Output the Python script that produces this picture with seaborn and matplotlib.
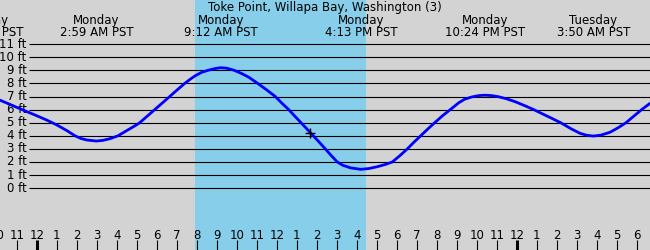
import matplotlib
matplotlib.use("Agg")
import matplotlib.pyplot as plt
import seaborn as sns

# ---- data (hours from Monday 00:00 PST, water level in ft) ----
hours = [-1.84, -1.5, -1.0, -0.5, 0.0, 0.5, 1.0, 1.5, 1.91, 2.2,
         2.5, 2.975, 3.3, 3.66, 4.06, 4.5, 5.0, 5.145, 5.5, 5.895,
         6.25, 6.645, 7.0, 7.395, 7.7, 7.925, 8.25, 8.56, 8.9, 9.195,
         9.5, 9.875, 10.25, 10.625, 11.045, 11.5, 11.925, 12.25, 12.595, 12.9,
         13.21, 13.5, 13.825, 14.1, 14.425, 14.7, 15.025, 15.3, 15.695, 16.195,
         16.6, 17.025, 17.4, 17.775, 18.15, 18.525, 18.85, 19.195, 19.55, 19.895,
         20.3, 20.675, 21.095, 21.4, 21.76, 22.1, 22.41, 22.75, 23.095, 23.5,
         23.925, 24.4, 24.845, 25.25, 25.66, 26.195, 26.7, 27.16, 27.5, 27.83,
         28.2, 28.66, 29.05, 29.46, 29.85, 30.245, 30.66]
heights = [6.72, 6.5, 6.17, 5.85, 5.53, 5.2, 4.83, 4.4, 4.0, 3.8,
           3.68, 3.6, 3.65, 3.78, 4.0, 4.4, 4.85, 5.0, 5.47, 6.0,
           6.47, 7.0, 7.48, 8.0, 8.35, 8.59, 8.85, 9.0, 9.13, 9.2,
           9.16, 9.0, 8.75, 8.45, 8.0, 7.5, 7.0, 6.5, 6.0, 5.5,
           5.0, 4.53, 4.0, 3.55, 3.0, 2.53, 2.0, 1.75, 1.55, 1.44,
           1.5, 1.64, 1.8, 2.0, 2.48, 3.0, 3.5, 4.0, 4.52, 5.0,
           5.55, 6.0, 6.52, 6.8, 6.97, 7.07, 7.1, 7.07, 6.98, 6.82,
           6.6, 6.3, 6.0, 5.7, 5.4, 5.0, 4.55, 4.19, 4.04, 3.98,
           4.05, 4.27, 4.6, 5.0, 5.5, 6.0, 6.48]

event_hours = [-2.5, 2.983, 9.2, 16.217, 22.4, 27.833]
event_days = ["Sunday", "Monday", "Monday", "Monday", "Monday", "Tuesday"]
event_times = ["9:30 PM PST", "2:59 AM PST", "9:12 AM PST", "4:13 PM PST",
               "10:24 PM PST", "3:50 AM PST"]

daylight = [7.915, 16.465]
now_hour = [13.68]
now_level = [4.24]

ft_levels = list(range(0, 12))
ft_labels = [f"{v} ft" for v in ft_levels]

tick_hours = list(range(-2, 31))
tick_labels = ["10", "11", "12", "1", "2", "3", "4", "5", "6", "7", "8", "9", "10", "11",
               "12", "1", "2", "3", "4", "5", "6", "7", "8", "9", "10", "11",
               "12", "1", "2", "3", "4", "5", "6"]
midnights = [0, 24]

title = "Toke Point, Willapa Bay, Washington (3)"

# ---- figure ----
sns.set_style("white")
plt.rcParams["font.family"] = ["DejaVu Sans"]
FS = 8.5

fig = plt.figure(figsize=(6.5, 2.5), dpi=100)
ax = fig.add_axes([0, 0, 1, 1])
ax.set_facecolor("#d3d3d3")
ax.set_xlim(-1.84, 30.66)
ax.set_ylim(-4.72, 14.37)
for s in ax.spines.values():
    s.set_visible(False)
ax.set_xticks([])
ax.set_yticks([])

ax.axvspan(daylight[0], daylight[1], color="#87ceeb", zorder=0.5, lw=0)

# horizontal grid lines and labels
ax.hlines(ft_levels, -0.375, 30.66, color="black", lw=0.8, zorder=1)
for v, lab in zip(ft_levels, ft_labels):
    ax.annotate(lab, xy=(-0.505, v), xytext=(0, -3.5), textcoords="offset pixels",
                ha="right", va="baseline", fontsize=FS, color="black")

# tide curve
sns.lineplot(x=hours, y=heights, ax=ax, color="#0000ff", lw=2.0, zorder=3,
             sort=False, estimator=None)
ax.plot(now_hour, now_level, marker="+", color="black", ms=7, mew=1.0, zorder=4,
        ls="none")

# bottom hour ticks and labels
xt = ax.get_xaxis_transform()
widths = [2.2 if h in midnights else 0.8 for h in tick_hours]
ax.vlines(tick_hours, 0, 10 / 250, transform=xt, colors="black", linewidths=widths,
          zorder=4)
for h, lab in zip(tick_hours, tick_labels):
    ax.text(h, 1 - 239.3 / 250, lab, transform=xt, ha="center", va="baseline",
            fontsize=FS, color="black")

# top event labels
for h, d, t in zip(event_hours, event_days, event_times):
    ax.text(h, 1 - 24 / 250, d, transform=xt, ha="center", va="baseline",
            fontsize=FS, color="black", zorder=5)
    ax.text(h, 1 - 35.7 / 250, t, transform=xt, ha="center", va="baseline",
            fontsize=FS, color="black", zorder=5)

fig.text(0.5, 1 - 10.7 / 250, title, ha="center", va="baseline", fontsize=FS,
         color="black")

fig.savefig("out.png", dpi=100)
